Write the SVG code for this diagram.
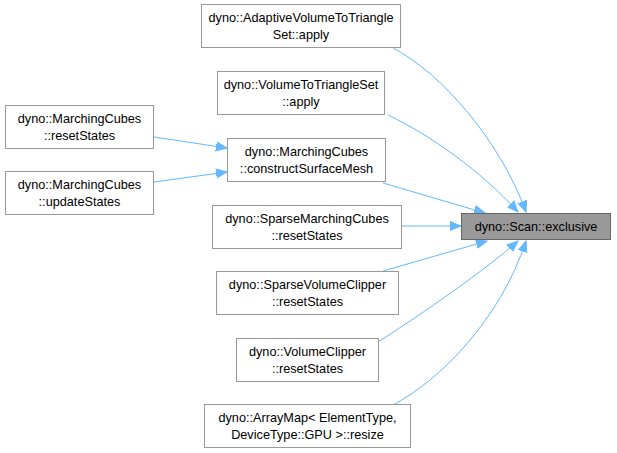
<svg xmlns="http://www.w3.org/2000/svg" width="617" height="453" viewBox="0 0 617 453">
<style>
.node rect{fill:#ffffff;stroke:#999999;stroke-width:1}
.node.hl rect{fill:#999999;stroke:#666666}
.node text{font-family:"Liberation Sans",Arial,Helvetica,sans-serif;font-size:12.7px;fill:#000000;text-anchor:middle}
.edge{fill:none;stroke:#63b8ff;stroke-width:1;marker-end:url(#arr)}
</style>
<defs>
<marker id="arr" markerUnits="userSpaceOnUse" markerWidth="12" markerHeight="12" viewBox="0 -6 12 12" refX="11" refY="0" orient="auto">
<polygon points="0,-4.5 11,0 0,4.5" fill="#63b8ff" stroke="#63b8ff" stroke-width="1"/>
</marker>
</defs>
<rect width="617" height="453" fill="#ffffff"/>
<g id="connectors">
<path class="edge" d="M393,48 C440,72 500,140 526,212"/>
<path class="edge" d="M388,115 C430,135 480,170 518,212"/>
<path class="edge" d="M383,183 L485,213"/>
<path class="edge" d="M402,226 L461,226"/>
<path class="edge" d="M383,271 L487,241"/>
<path class="edge" d="M378,342 C425,312 485,270 518,241"/>
<path class="edge" d="M393,405 C440,380 500,320 526,241"/>
<path class="edge" d="M154,137 L227,148"/>
<path class="edge" d="M154,182 L227,172"/>
</g>
<g id="scan_exclusive" class="node hl">
<rect x="461.5" y="213.5" width="149" height="26"/>
<text x="536" y="230.5">dyno::Scan::exclusive</text>
</g>
<g id="adaptive_apply" class="node">
<rect x="201.5" y="4.5" width="199" height="43"/>
<text x="301" y="22">dyno::AdaptiveVolumeToTriangle</text>
<text x="301" y="38.5">Set::apply</text>
</g>
<g id="vtts_apply" class="node">
<rect x="217.5" y="71.5" width="167" height="43"/>
<text x="301" y="89">dyno::VolumeToTriangleSet</text>
<text x="301" y="105.5">::apply</text>
</g>
<g id="mc_reset" class="node">
<rect x="5.5" y="105.5" width="148" height="43"/>
<text x="79.5" y="123">dyno::MarchingCubes</text>
<text x="79.5" y="139.5">::resetStates</text>
</g>
<g id="mc_update" class="node">
<rect x="5.5" y="171.5" width="148" height="43"/>
<text x="79.5" y="189">dyno::MarchingCubes</text>
<text x="79.5" y="205.5">::updateStates</text>
</g>
<g id="mc_construct" class="node">
<rect x="227.5" y="138.5" width="158" height="43"/>
<text x="306.5" y="156">dyno::MarchingCubes</text>
<text x="306.5" y="172.5">::constructSurfaceMesh</text>
</g>
<g id="smc_reset" class="node">
<rect x="212.5" y="205.5" width="189" height="43"/>
<text x="307" y="223">dyno::SparseMarchingCubes</text>
<text x="307" y="239.5">::resetStates</text>
</g>
<g id="svc_reset" class="node">
<rect x="216.5" y="271.5" width="182" height="43"/>
<text x="307.5" y="289">dyno::SparseVolumeClipper</text>
<text x="307.5" y="305.5">::resetStates</text>
</g>
<g id="vc_reset" class="node">
<rect x="236.5" y="338.5" width="142" height="43"/>
<text x="307.5" y="356">dyno::VolumeClipper</text>
<text x="307.5" y="372.5">::resetStates</text>
</g>
<g id="arraymap_resize" class="node">
<rect x="204.5" y="404.5" width="206" height="43"/>
<text x="307.5" y="422">dyno::ArrayMap&lt; ElementType,</text>
<text x="307.5" y="438.5">DeviceType::GPU &gt;::resize</text>
</g>
</svg>
